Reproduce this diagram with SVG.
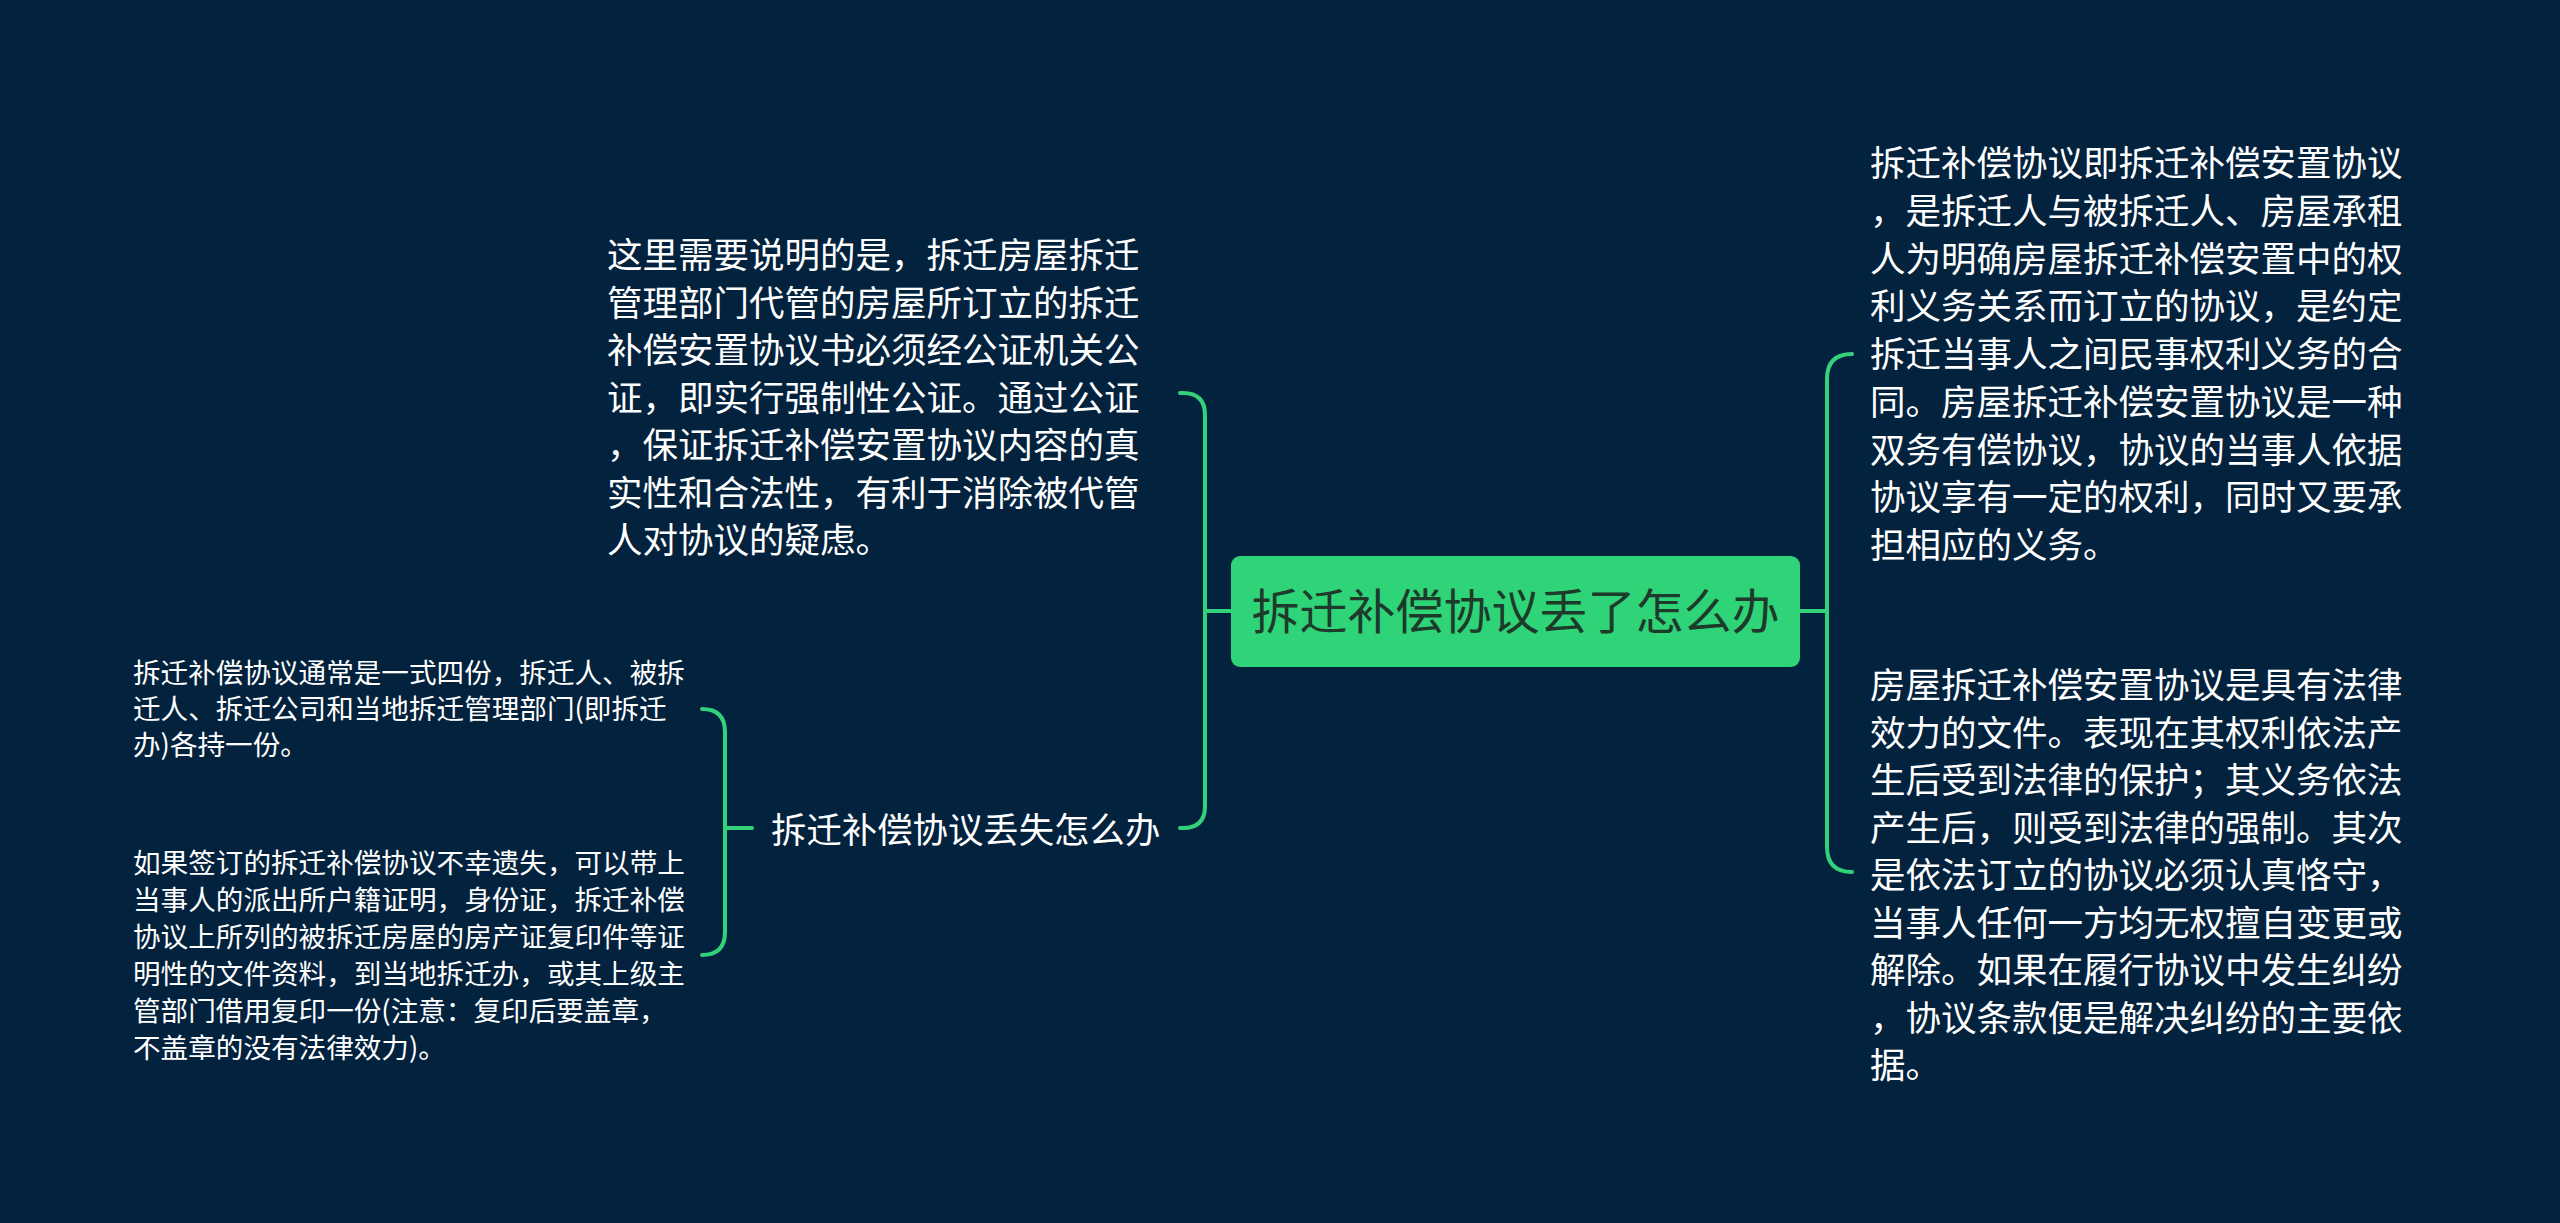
<svg xmlns="http://www.w3.org/2000/svg" width="2560" height="1223" viewBox="0 0 2560 1223">
<style>
.t{font-family:"Noto Sans CJK SC","Noto Sans",sans-serif;fill:#ffffff}
.l{fill:none;stroke:#34d17b;stroke-width:4;stroke-linecap:round;stroke-linejoin:round}
</style>
<rect x="0" y="0" width="2560" height="1223" fill="#02223e"/>
<g id="connectors">
<path class="l" d="M1231 611 H1205"/>
<path class="l" d="M1180 393 H1183 Q1205 393 1205 415 V806 Q1205 828 1183 828 H1180"/>
<path class="l" d="M1800 611 H1827"/>
<path class="l" d="M1852 354 Q1827 354 1827 379 V847 Q1827 872 1852 872"/>
<path class="l" d="M752 828 H725"/>
<path class="l" d="M702 709 Q725 709 725 732 V932 Q725 955 702 955"/>
</g>
<g id="root">
<rect x="1231" y="556" width="569" height="111" rx="9" fill="#2fd478"/>
<text x="1515.5" y="628.5" text-anchor="middle" font-family="Noto Sans CJK SC, sans-serif" font-size="48" fill="#1d3a2b">拆迁补偿协议丢了怎么办</text>
</g>
<g id="n-left-top" class="t" font-size="35.5">
<text class="t" x="607" y="268">这里需要说明的是，拆迁房屋拆迁</text>
<text class="t" x="607" y="315.5">管理部门代管的房屋所订立的拆迁</text>
<text class="t" x="607" y="363">补偿安置协议书必须经公证机关公</text>
<text class="t" x="607" y="410.5">证，即实行强制性公证。通过公证</text>
<text class="t" x="607" y="458">，保证拆迁补偿安置协议内容的真</text>
<text class="t" x="607" y="505.5">实性和合法性，有利于消除被代管</text>
<text class="t" x="607" y="553">人对协议的疑虑。</text>
</g>
<g id="n-left-mid" class="t" font-size="35.4">
<text class="t" x="771" y="843">拆迁补偿协议丢失怎么办</text>
</g>
<g id="n-left-small-1" class="t" font-size="27.6">
<text class="t" x="133" y="683">拆迁补偿协议通常是一式四份，拆迁人、被拆</text>
<text class="t" x="133" y="719">迁人、拆迁公司和当地拆迁管理部门(即拆迁</text>
<text class="t" x="133" y="755">办)各持一份。</text>
</g>
<g id="n-left-small-2" class="t" font-size="27.6">
<text class="t" x="133" y="873">如果签订的拆迁补偿协议不幸遗失，可以带上</text>
<text class="t" x="133" y="910">当事人的派出所户籍证明，身份证，拆迁补偿</text>
<text class="t" x="133" y="947">协议上所列的被拆迁房屋的房产证复印件等证</text>
<text class="t" x="133" y="984">明性的文件资料，到当地拆迁办，或其上级主</text>
<text class="t" x="133" y="1021">管部门借用复印一份(注意：复印后要盖章，</text>
<text class="t" x="133" y="1058">不盖章的没有法律效力)。</text>
</g>
<g id="n-right-top" class="t" font-size="35.5">
<text class="t" x="1870" y="176">拆迁补偿协议即拆迁补偿安置协议</text>
<text class="t" x="1870" y="223.75">，是拆迁人与被拆迁人、房屋承租</text>
<text class="t" x="1870" y="271.5">人为明确房屋拆迁补偿安置中的权</text>
<text class="t" x="1870" y="319.25">利义务关系而订立的协议，是约定</text>
<text class="t" x="1870" y="367">拆迁当事人之间民事权利义务的合</text>
<text class="t" x="1870" y="414.75">同。房屋拆迁补偿安置协议是一种</text>
<text class="t" x="1870" y="462.5">双务有偿协议，协议的当事人依据</text>
<text class="t" x="1870" y="510.25">协议享有一定的权利，同时又要承</text>
<text class="t" x="1870" y="558">担相应的义务。</text>
</g>
<g id="n-right-bottom" class="t" font-size="35.5">
<text class="t" x="1870" y="698">房屋拆迁补偿安置协议是具有法律</text>
<text class="t" x="1870" y="745.5">效力的文件。表现在其权利依法产</text>
<text class="t" x="1870" y="793">生后受到法律的保护；其义务依法</text>
<text class="t" x="1870" y="840.5">产生后，则受到法律的强制。其次</text>
<text class="t" x="1870" y="888">是依法订立的协议必须认真恪守，</text>
<text class="t" x="1870" y="935.5">当事人任何一方均无权擅自变更或</text>
<text class="t" x="1870" y="983">解除。如果在履行协议中发生纠纷</text>
<text class="t" x="1870" y="1030.5">，协议条款便是解决纠纷的主要依</text>
<text class="t" x="1870" y="1078">据。</text>
</g>
</svg>
